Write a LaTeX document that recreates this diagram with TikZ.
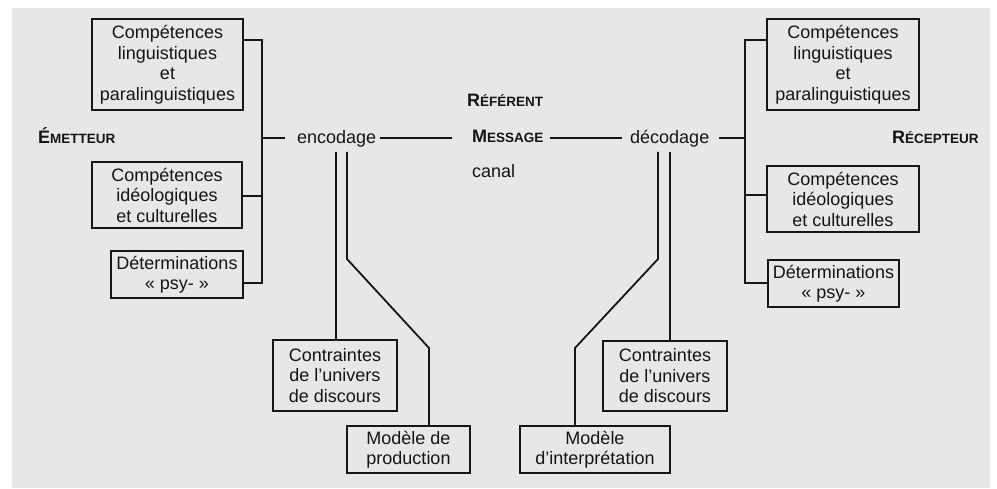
\documentclass[tikz,border=0pt]{standalone}
\usepackage{fontspec}
\setmainfont{Liberation Sans}
\usetikzlibrary{calc}
\definecolor{bggray}{HTML}{E7E7E7}
\definecolor{ink}{HTML}{151515}
\newcommand{\myscap}[2]{\textbf{{\fontsize{18}{20}\selectfont #1}{\fontsize{13.5}{15}\selectfont #2}}}
\tikzset{
  boxnode/.style={draw=ink, line width=1.6pt, align=center, inner sep=0pt,
    font=\fontsize{18}{20.5}\selectfont, text=ink},
  lbl/.style={inner sep=0pt, anchor=base west, text=ink, font=\fontsize{18}{20}\selectfont},
  conn/.style={draw=ink, line width=1.8pt, line join=miter},
}
\begin{document}
\begin{tikzpicture}[x=1pt,y=-1pt]
\useasboundingbox (0,0) rectangle (997,489);
\fill[bggray] (12,8) rectangle (990,488);

% left boxes
\node[boxnode, minimum width=151pt, minimum height=91pt] (L1) at (167.5,64.5) {Compétences\\linguistiques\\et\\paralinguistiques};
\node[boxnode, minimum width=150pt, minimum height=66pt] (L2) at (167,195) {Compétences\\idéologiques\\et culturelles};
\node[boxnode, minimum width=132pt, minimum height=47pt] (L3) at (177,274.5) {Déterminations\\«~psy-~»};
% right boxes
\node[boxnode, minimum width=152pt, minimum height=91pt] (R1) at (843,64.5) {Compétences\\linguistiques\\et\\paralinguistiques};
\node[boxnode, minimum width=152pt, minimum height=66pt] (R2) at (843,199) {Compétences\\idéologiques\\et culturelles};
\node[boxnode, minimum width=131pt, minimum height=47pt] (R3) at (833.5,283.5) {Déterminations\\«~psy-~»};
% bottom boxes
\node[boxnode, minimum width=124pt, minimum height=71pt] (CL) at (335,375.5) {Contraintes\\de l'univers\\de discours};
\node[boxnode, minimum width=123pt, minimum height=47pt] (ML) at (408.5,449.5) {Modèle de\\production};
\node[boxnode, minimum width=124pt, minimum height=70pt] (CR) at (665,376) {Contraintes\\de l'univers\\de discours};
\node[boxnode, minimum width=150pt, minimum height=47pt] (MR) at (595,449.5) {Modèle\\d'interprétation};

% text labels
\node[lbl] (emet) at (38,144) {\myscap{É}{METTEUR}};
\node[lbl] (recep) at (892,143.5) {\myscap{R}{ÉCEPTEUR}};
\node[lbl] (refe) at (467,106.5) {\myscap{R}{ÉFÉRENT}};
\node[lbl] (msg) at (472,143) {\myscap{M}{ESSAGE}};
\node[lbl] (canal) at (472,178) {canal};
\node[lbl] (enc) at (297,143.5) {encodage};
\node[lbl] (dec) at (630,143.5) {décodage};

% coordinates
\coordinate (sl1) at (262,40);
\coordinate (sl2) at (262,196);
\coordinate (sl3) at (262,283);
\coordinate (slm) at (262,138);
\coordinate (encL) at (285,138);
\coordinate (encR) at (380,138);
\coordinate (msgL) at (452,138);
\coordinate (msgR) at (550,138);
\coordinate (decL) at (622,138);
\coordinate (decR) at (719,138);
\coordinate (sr1) at (745,40);
\coordinate (sr2) at (745,195);
\coordinate (sr3) at (745,283);
\coordinate (srm) at (745,138);

\coordinate (e1) at (336,152);
\coordinate (e2) at (347,152);
\coordinate (e2b) at (347,259);
\coordinate (e2c) at (429,348);
\coordinate (d1) at (670,152);
\coordinate (d2) at (658,152);
\coordinate (d2b) at (658,259);
\coordinate (d2c) at (575,348);

% left spine
\draw[conn] (L1.east |- sl1) -- (sl1) -- (sl3) -- (L3.east |- sl3);
\draw[conn] (L2.east |- sl2) -- (sl2);
\draw[conn] (slm) -- (encL);
% main line
\draw[conn] (encR) -- (msgL);
\draw[conn] (msgR) -- (decL);
\draw[conn] (decR) -- (srm);
% right spine
\draw[conn] (R1.west |- sr1) -- (sr1) -- (sr3) -- (R3.west |- sr3);
\draw[conn] (R2.west |- sr2) -- (sr2);
% encodage branches
\draw[conn] (e1) -- (e1 |- CL.north);
\draw[conn] (e2) -- (e2b) -- (e2c) -- (e2c |- ML.north);
% decodage branches
\draw[conn] (d1) -- (d1 |- CR.north);
\draw[conn] (d2) -- (d2b) -- (d2c) -- (d2c |- MR.north);
\end{tikzpicture}
\end{document}
